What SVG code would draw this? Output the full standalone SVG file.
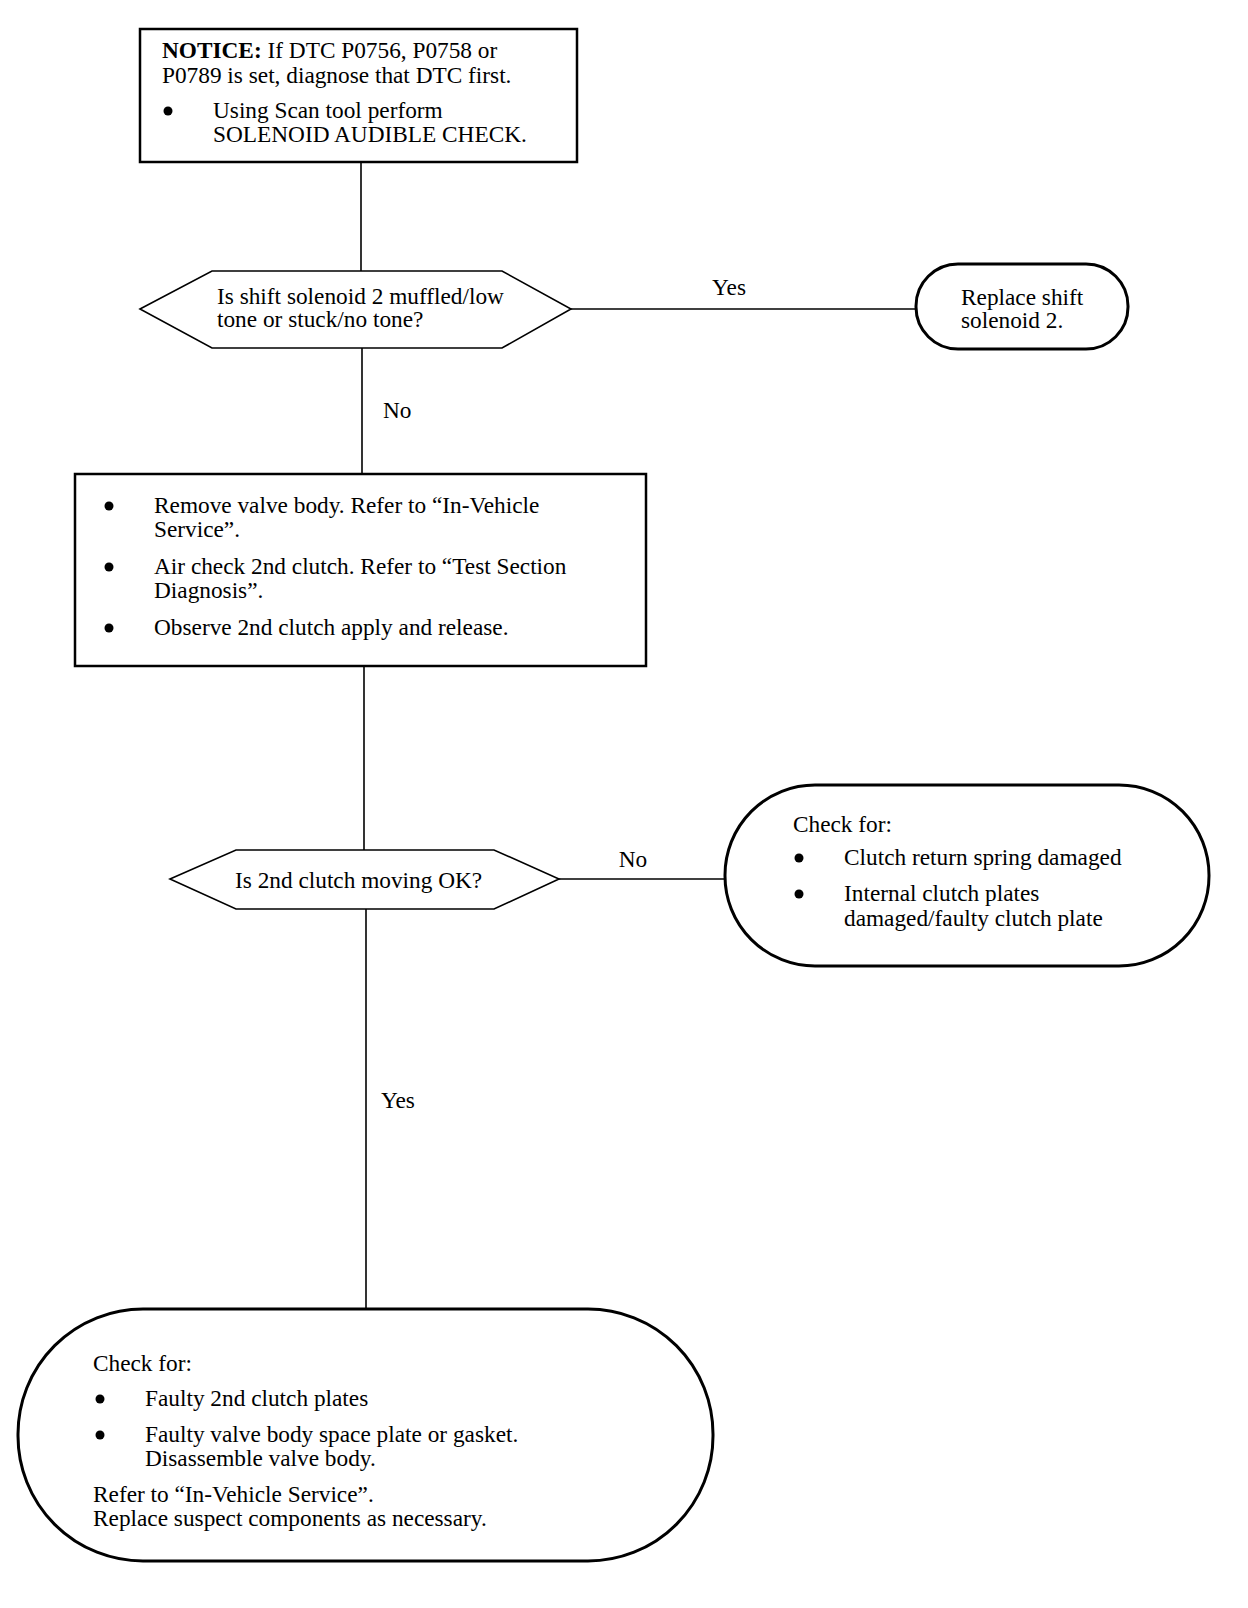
<svg xmlns="http://www.w3.org/2000/svg" width="1248" height="1608" viewBox="0 0 1248 1608">
<style>
text{font-family:"Liberation Serif","Times New Roman",serif;font-size:23.3px;fill:#000}
.b{font-weight:bold}
.box{fill:#fff;stroke:#000;stroke-width:2.5}
.dec{fill:#fff;stroke:#000;stroke-width:1.6}
.term{fill:#fff;stroke:#000;stroke-width:3}
.ln{stroke:#000;stroke-width:1.6;fill:none}
</style>
<rect width="1248" height="1608" fill="#fff"/>
<g id="connectors">
<line class="ln" x1="361" y1="162" x2="361" y2="271"/>
<line class="ln" x1="571" y1="309" x2="916" y2="309"/>
<line class="ln" x1="362" y1="348" x2="362" y2="474"/>
<line class="ln" x1="364" y1="666" x2="364" y2="850"/>
<line class="ln" x1="559" y1="879" x2="725" y2="879"/>
<line class="ln" x1="366" y1="909" x2="366" y2="1310"/>
<text x="729" y="295" text-anchor="middle">Yes</text>
<text x="383" y="418">No</text>
<text x="633" y="867" text-anchor="middle">No</text>
<text x="381" y="1108">Yes</text>
</g>
<g id="n1">
<rect class="box" x="140" y="29" width="437" height="133"/>
<text x="162" y="58"><tspan class="b">NOTICE:</tspan> If DTC P0756, P0758 or</text>
<text x="162" y="83">P0789 is set, diagnose that DTC first.</text>
<circle cx="168" cy="111" r="4.5"/>
<text x="213" y="118">Using Scan tool perform</text>
<text x="213" y="142">SOLENOID AUDIBLE CHECK.</text>
</g>
<g id="d1">
<polygon class="dec" points="140,309 212,271 502,271 571,309 502,348 212,348"/>
<text x="217" y="304">Is shift solenoid 2 muffled/low</text>
<text x="217" y="327">tone or stuck/no tone?</text>
</g>
<g id="t1">
<rect class="term" x="916" y="264" width="212" height="85" rx="42" ry="42"/>
<text x="961" y="305">Replace shift</text>
<text x="961" y="328">solenoid 2.</text>
</g>
<g id="n2">
<rect class="box" x="75" y="474" width="571" height="192"/>
<circle cx="109" cy="506" r="4.5"/>
<text x="154" y="513">Remove valve body. Refer to “In-Vehicle</text>
<text x="154" y="537">Service”.</text>
<circle cx="109" cy="567" r="4.5"/>
<text x="154" y="574">Air check 2nd clutch. Refer to “Test Section</text>
<text x="154" y="598">Diagnosis”.</text>
<circle cx="109" cy="628" r="4.5"/>
<text x="154" y="635">Observe 2nd clutch apply and release.</text>
</g>
<g id="d2">
<polygon class="dec" points="170,879 236,850 494,850 559,879 494,909 236,909"/>
<text x="235" y="888">Is 2nd clutch moving OK?</text>
</g>
<g id="t2">
<rect class="term" x="725" y="785" width="484" height="181" rx="90" ry="90"/>
<text x="793" y="832">Check for:</text>
<circle cx="799" cy="858" r="4.5"/>
<text x="844" y="865">Clutch return spring damaged</text>
<circle cx="799" cy="894" r="4.5"/>
<text x="844" y="901">Internal clutch plates</text>
<text x="844" y="926">damaged/faulty clutch plate</text>
</g>
<g id="t3">
<rect class="term" x="18" y="1309" width="695" height="252" rx="125" ry="125"/>
<text x="93" y="1371">Check for:</text>
<circle cx="100" cy="1399" r="4.5"/>
<text x="145" y="1406">Faulty 2nd clutch plates</text>
<circle cx="100" cy="1435" r="4.5"/>
<text x="145" y="1442">Faulty valve body space plate or gasket.</text>
<text x="145" y="1466">Disassemble valve body.</text>
<text x="93" y="1502">Refer to “In-Vehicle Service”.</text>
<text x="93" y="1526">Replace suspect components as necessary.</text>
</g>
</svg>
